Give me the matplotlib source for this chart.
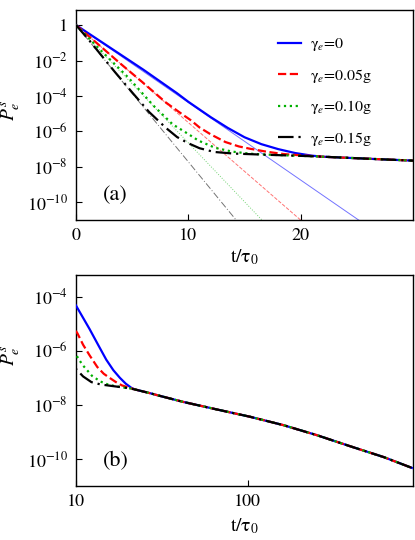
import numpy as np
import matplotlib
matplotlib.use("Agg")
import matplotlib.pyplot as plt
from matplotlib.ticker import FixedLocator, FuncFormatter, NullLocator

plt.rcParams['font.family'] = ['STIXGeneral', 'DejaVu Serif']
plt.rcParams['mathtext.fontset'] = 'stix'

# ---------------- data (log10 of P_e^s) ----------------
labels = [r"γ$_e$=0", r"γ$_e$=0.05g", r"γ$_e$=0.10g", r"γ$_e$=0.15g"]
colors = ["#0000ff", "#ff0000", "#00b000", "#000000"]

# early-time parts of the curves
t_blue = [0, 3, 6, 9, 10, 12, 13.5, 15, 16.5, 18, 19.5, 21]
lp_blue = [0, -1.26, -2.52, -3.85, -4.33, -5.2, -5.8, -6.33, -6.72, -7.0, -7.22, -7.37]

t_red = [0, 2, 4, 6, 8, 9.6, 10.2, 11, 12, 13.3, 14.5, 15.5, 17, 18.5, 20, 21]
lp_red = [0, -1.1, -2.2, -3.27, -4.37, -5.1, -5.36, -5.78, -6.17, -6.6, -6.85, -6.98,
          -7.15, -7.28, -7.35, -7.39]

t_green = [0, 2, 4.67, 6.9, 8.6, 10, 10.9, 12.4, 13.9, 15.5, 17, 19, 21]
lp_green = [0, -1.3, -2.97, -4.55, -5.6, -6.15, -6.52, -6.93, -7.14, -7.26, -7.31, -7.36, -7.4]

t_black = [0, 1.2, 3.4, 5, 6.5, 8, 9, 10, 11, 12.3, 14, 17, 20]
lp_black = [0, -0.88, -2.6, -3.8, -4.9, -5.8, -6.32, -6.67, -6.95, -7.16, -7.25, -7.32, -7.38]

# common long-time tail
t_tail = [22, 27, 30, 42, 66, 103, 161, 252, 394, 617, 901]
lp_tail = [-7.43, -7.57, -7.65, -7.89, -8.17, -8.44, -8.75, -9.12, -9.53, -9.93, -10.33]

# thin reference lines (pure exponential decay): start and end points
thin_t0 = [0, 0, 0, 0]
thin_lp0 = [0, 0, 0, 0]
thin_t1 = [26.3, 20.9, 17.3, 14.9]
thin_lp1 = [-11.5, -11.5, -11.5, -11.5]

early_t = [t_blue, t_red, t_green, t_black]
early_lp = [lp_blue, lp_red, lp_green, lp_black]

styles = ['-', '--', ':', (0, (7, 2.2, 1, 2.2))]

def full_curve(i):
    t = np.array(list(early_t[i]) + list(t_tail), dtype=float)
    p = 10.0 ** np.array(list(early_lp[i]) + list(lp_tail), dtype=float)
    return t, p

fig = plt.figure(figsize=(4.15, 5.40), dpi=100)
axA = fig.add_axes([76/415, 1-220/540, 337/415, 210/540])
axB = fig.add_axes([76/415, 1-486/540, 337/415, 211/540])

def logfmt(v, pos):
    e = int(round(np.log10(v)))
    if e == 0:
        return "1"
    return r"$10^{-%d}$" % (-e)

tick_fs = 13

# ---------------- panel (a) ----------------
for i in range(4):
    axA.plot([thin_t0[i], thin_t1[i]], [10.0**thin_lp0[i], 10.0**thin_lp1[i]],
             color=colors[i], lw=0.7, ls=styles[i], alpha=0.55, zorder=2)
for i in range(4):
    t, p = full_curve(i)
    axA.plot(t, p, color=colors[i], lw=1.6, ls=styles[i], label=labels[i], zorder=3)

axA.set_yscale('log')
axA.set_xlim(0, 30)
axA.set_ylim(1e-11, 10**0.85)
axA.xaxis.set_major_locator(FixedLocator([0, 10, 20]))
axA.yaxis.set_major_locator(FixedLocator([1e-10, 1e-8, 1e-6, 1e-4, 1e-2, 1]))
axA.yaxis.set_major_formatter(FuncFormatter(logfmt))
axA.yaxis.set_minor_locator(NullLocator())
axA.xaxis.set_minor_locator(NullLocator())
axA.set_xlabel(r"t/τ$_0$", fontsize=14)
axA.set_ylabel(r"$P_e^s$", fontsize=14)
axA.xaxis.set_label_coords(0.5, -0.13)
axA.yaxis.set_label_coords(-0.16, 0.52)
axA.text(0.08, 0.12, "(a)", transform=axA.transAxes, fontsize=16, ha='left', va='center')
leg = axA.legend(loc='upper left', bbox_to_anchor=(0.6, 0.875), frameon=False,
                 fontsize=11.5, handlelength=1.45, handletextpad=0.55, labelspacing=0.85,
                 borderpad=0, borderaxespad=0)

# ---------------- panel (b) ----------------
for i in range(4):
    t, p = full_curve(i)
    axB.plot(t, p, color=colors[i], lw=1.6, ls=styles[i], zorder=3 + i)

axB.set_xscale('log')
axB.set_yscale('log')
axB.set_xlim(10, 915)
axB.set_ylim(1e-11, 10**-3.2)
axB.xaxis.set_major_locator(FixedLocator([10, 100]))
axB.xaxis.set_major_formatter(FuncFormatter(lambda v, pos: "%d" % round(v)))
axB.xaxis.set_minor_locator(NullLocator())
axB.yaxis.set_major_locator(FixedLocator([1e-10, 1e-8, 1e-6, 1e-4]))
axB.yaxis.set_major_formatter(FuncFormatter(logfmt))
axB.yaxis.set_minor_locator(NullLocator())
axB.set_xlabel(r"t/τ$_0$", fontsize=14)
axB.set_ylabel(r"$P_e^s$", fontsize=14)
axB.xaxis.set_label_coords(0.5, -0.145)
axB.yaxis.set_label_coords(-0.16, 0.62)
axB.text(0.08, 0.115, "(b)", transform=axB.transAxes, fontsize=16, ha='left', va='center')

for ax in (axA, axB):
    ax.tick_params(axis='both', which='major', direction='in', length=4, width=0.8,
                   labelsize=tick_fs, pad=6)
    for s in ax.spines.values():
        s.set_linewidth(1.0)

fig.savefig("out.png", dpi=100)
